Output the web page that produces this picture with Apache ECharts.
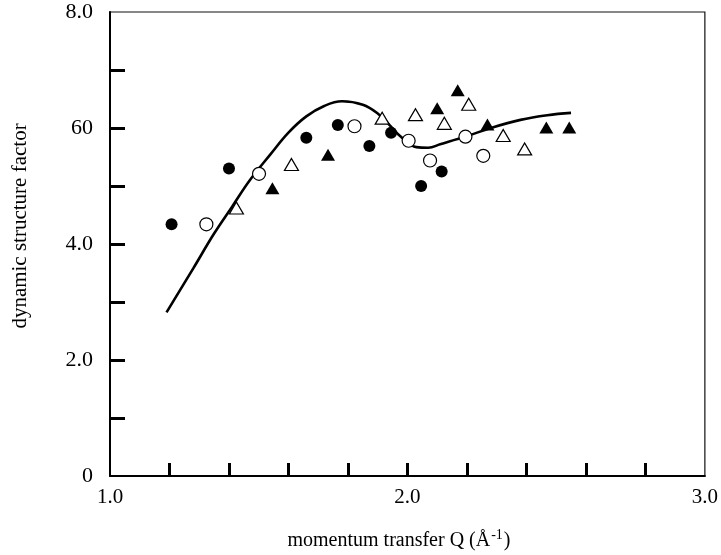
<!DOCTYPE html>
<html>
<head>
<meta charset="utf-8">
<script src="https://cdn.jsdelivr.net/npm/echarts@6/dist/echarts.min.js"></script>
<style>
html,body{margin:0;padding:0;background:#fff;}
#chart{width:721px;height:555px;}
</style>
</head>
<body>
<div id="chart"></div>
<script>
// ---- data ----
var filledCircleX = [1.207, 1.400, 1.660, 1.766, 1.872, 1.945, 2.046, 2.115];
var filledCircleY = [4.34, 5.30, 5.83, 6.05, 5.69, 5.92, 5.00, 5.25];

var openCircleX = [1.324, 1.501, 1.822, 2.004, 2.076, 2.195, 2.255];
var openCircleY = [4.34, 5.21, 6.03, 5.78, 5.44, 5.85, 5.52];

var openTriangleX = [1.425, 1.610, 1.915, 2.027, 2.124, 2.206, 2.322, 2.394];
var openTriangleY = [4.62, 5.37, 6.17, 6.23, 6.08, 6.41, 5.87, 5.64];

var filledTriangleX = [1.546, 1.733, 2.100, 2.169, 2.269, 2.467, 2.544];
var filledTriangleY = [4.96, 5.54, 6.34, 6.65, 6.06, 6.01, 6.01];

var curveX = [1.19, 1.28, 1.35, 1.41, 1.47, 1.54, 1.60, 1.66, 1.72, 1.78, 1.85, 1.90, 1.94, 1.98, 2.03, 2.07, 2.11, 2.20, 2.28, 2.38, 2.47, 2.55];
var curveY = [2.82, 3.58, 4.18, 4.64, 5.10, 5.55, 5.92, 6.20, 6.38, 6.46, 6.40, 6.25, 6.05, 5.84, 5.67, 5.66, 5.72, 5.86, 6.00, 6.14, 6.22, 6.26];

var xTickValues = [1.0, 2.0, 3.0];
var xTickLabels = ['1.0', '2.0', '3.0'];
var yTickValues = [0, 2, 4, 6, 8];
var yTickLabels = ['0', '2.0', '4.0', '60', '8.0'];

var xTitle = 'momentum transfer Q (Å';
var xTitleSup = '-1';
var yTitle = 'dynamic structure factor';

function pairs(xs, ys) { return xs.map(function (x, i) { return [x, ys[i]]; }); }
function labelFor(values, labels) {
  return function (v) {
    for (var i = 0; i < values.length; i++) {
      if (Math.abs(values[i] - v) < 1e-6) return labels[i];
    }
    return '';
  };
}

var FONT = '"Liberation Serif", "DejaVu Serif", serif';
var chart = echarts.init(document.getElementById('chart'), null, { renderer: 'canvas' });

var option = {
  animation: false,
  backgroundColor: '#fff',
  grid: {
    left: 110, top: 12, width: 596, height: 464,
    show: true, borderColor: '#111', borderWidth: 1.2, backgroundColor: 'transparent'
  },
  xAxis: {
    type: 'value', min: 1, max: 3, interval: 0.2,
    axisLine: { show: true, onZero: false, lineStyle: { color: '#000', width: 2 } },
    axisTick: { show: true, inside: true, length: 13, lineStyle: { color: '#000', width: 3 },
      customValues: [1.2, 1.4, 1.6, 1.8, 2.0, 2.2, 2.4, 2.6, 2.8] },
    axisLabel: { show: true, margin: 11, color: '#000', fontFamily: FONT, fontSize: 21,
      customValues: xTickValues, formatter: labelFor(xTickValues, xTickLabels) },
    splitLine: { show: false }
  },
  yAxis: {
    type: 'value', min: 0, max: 8, interval: 1,
    axisLine: { show: true, onZero: false, lineStyle: { color: '#000', width: 2 } },
    axisTick: { show: true, inside: true, length: 15, lineStyle: { color: '#000', width: 3 },
      customValues: [1, 2, 3, 4, 5, 6, 7] },
    axisLabel: { show: true, margin: 17, color: '#000', fontFamily: FONT, fontSize: 22,
      customValues: yTickValues, formatter: labelFor(yTickValues, yTickLabels) },
    splitLine: { show: false }
  },
  graphic: [
    {
      type: 'text', x: 20, y: 226, rotation: Math.PI / 2,
      style: { text: yTitle, fill: '#000', font: '21px ' + FONT, align: 'center', verticalAlign: 'middle' }
    },
    {
      type: 'text', x: 399, y: 541,
      style: {
        text: '{a|' + xTitle + '}{s|' + xTitleSup + '}{a|)}',
        align: 'center', verticalAlign: 'middle',
        rich: {
          a: { fontFamily: FONT, fontSize: 20, fill: '#000', color: '#000' },
          s: { fontFamily: FONT, fontSize: 14, fill: '#000', color: '#000', padding: [0, 1, 12, 1] }
        }
      }
    }
  ],
  series: [
    {
      type: 'line', data: pairs(curveX, curveY), smooth: 0.4, showSymbol: false,
      lineStyle: { color: '#000', width: 2.6 }, z: 2
    },
    {
      type: 'scatter', data: pairs(filledCircleX, filledCircleY), symbol: 'circle', symbolSize: 12,
      itemStyle: { color: '#000', opacity: 1 }, z: 3
    },
    {
      type: 'scatter', data: pairs(openCircleX, openCircleY), symbol: 'circle', symbolSize: 13,
      itemStyle: { color: '#fff', borderColor: '#000', borderWidth: 1.2, opacity: 1 }, z: 3
    },
    {
      type: 'scatter', data: pairs(openTriangleX, openTriangleY), symbol: 'triangle', symbolSize: [14, 12],
      itemStyle: { color: '#fff', borderColor: '#000', borderWidth: 1.2, opacity: 1 }, z: 3
    },
    {
      type: 'scatter', data: pairs(filledTriangleX, filledTriangleY), symbol: 'triangle', symbolSize: [14, 12],
      itemStyle: { color: '#000', opacity: 1 }, z: 3
    }
  ]
};
chart.setOption(option);
</script>
</body>
</html>
